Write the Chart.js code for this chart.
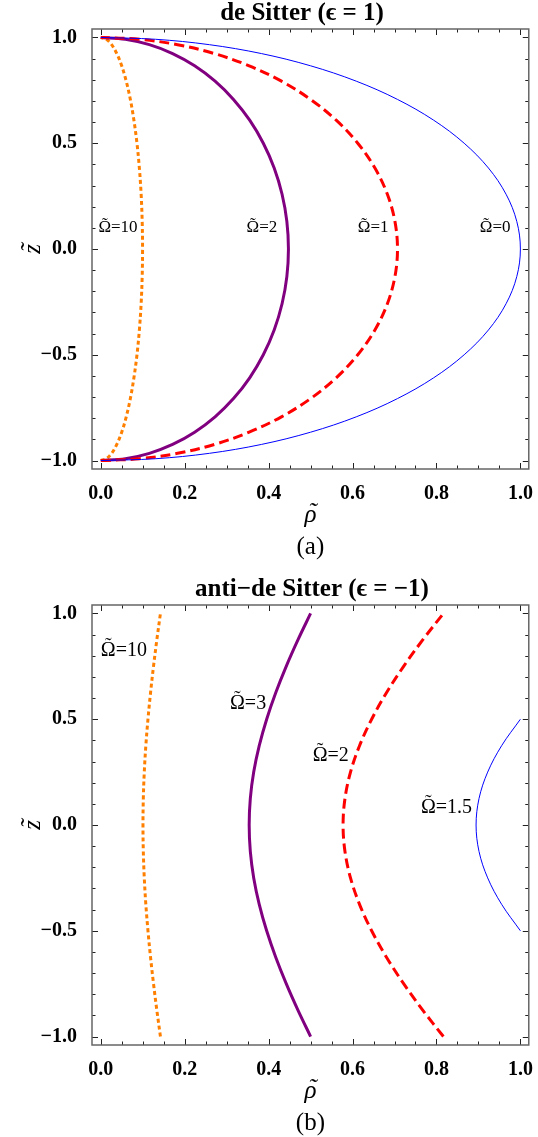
<!DOCTYPE html>
<html>
<head>
<meta charset="utf-8">
<script src="https://cdn.jsdelivr.net/npm/chart.js@4.4.0/dist/chart.umd.min.js"></script>
<style>
  html, body { margin: 0; padding: 0; background: #fff; }
  canvas { display: block; }
</style>
</head>
<body>
<canvas id="dsChart" width="538" height="576"></canvas>
<canvas id="adsChart" width="538" height="561"></canvas>
<script>
// --- de Sitter (eps = 1): z values and rho for each Omega ---
const dsZ = [-1, -0.9914, -0.9659, -0.9239, -0.866, -0.7934, -0.7071, -0.6088, -0.5, -0.3827, -0.2588, -0.1305, 0,
             0.1305, 0.2588, 0.3827, 0.5, 0.6088, 0.7071, 0.7934, 0.866, 0.9239, 0.9659, 0.9914, 1];
const dsRho0 = [0, 0.1305, 0.2588, 0.3827, 0.5, 0.6088, 0.7071, 0.7934, 0.866, 0.9239, 0.9659, 0.9914, 1,
                0.9914, 0.9659, 0.9239, 0.866, 0.7934, 0.7071, 0.6088, 0.5, 0.3827, 0.2588, 0.1305, 0];
const dsRho1 = [0, 0.0923, 0.183, 0.2706, 0.3536, 0.4305, 0.5, 0.561, 0.6124, 0.6533, 0.683, 0.701, 0.7071,
                0.701, 0.683, 0.6533, 0.6124, 0.561, 0.5, 0.4305, 0.3536, 0.2706, 0.183, 0.0923, 0];
const dsRho2 = [0, 0.0584, 0.1157, 0.1711, 0.2236, 0.2723, 0.3162, 0.3548, 0.3873, 0.4132, 0.432, 0.4434, 0.4472,
                0.4434, 0.432, 0.4132, 0.3873, 0.3548, 0.3162, 0.2723, 0.2236, 0.1711, 0.1157, 0.0584, 0];
const dsRho10 = [0, 0.013, 0.0258, 0.0381, 0.0498, 0.0606, 0.0704, 0.0789, 0.0862, 0.0919, 0.0961, 0.0986, 0.0995,
                 0.0986, 0.0961, 0.0919, 0.0862, 0.0789, 0.0704, 0.0606, 0.0498, 0.0381, 0.0258, 0.013, 0];

// --- anti-de Sitter (eps = -1) ---
const adsZ = [-1, -0.875, -0.75, -0.625, -0.5, -0.375, -0.25, -0.125, 0, 0.125, 0.25, 0.375, 0.5, 0.625, 0.75, 0.875, 1];
const adsRho10 = [0.1421, 0.1335, 0.1256, 0.1185, 0.1124, 0.1073, 0.1036, 0.1013, 0.1005,
                  0.1013, 0.1036, 0.1073, 0.1124, 0.1185, 0.1256, 0.1335, 0.1421];
const adsRho3 = [0.5, 0.4698, 0.4419, 0.4169, 0.3953, 0.3776, 0.3644, 0.3563, 0.3536,
                 0.3563, 0.3644, 0.3776, 0.3953, 0.4169, 0.4419, 0.4698, 0.5];
const adsRho2 = [0.8165, 0.7672, 0.7217, 0.6808, 0.6455, 0.6166, 0.5951, 0.5819, 0.5774,
                 0.5819, 0.5951, 0.6166, 0.6455, 0.6808, 0.7217, 0.7672, 0.8165];
const adsZ15 = [-0.5, -0.375, -0.25, -0.125, 0, 0.125, 0.25, 0.375, 0.5];
const adsRho15 = [1, 0.9553, 0.922, 0.9014, 0.8944, 0.9014, 0.922, 0.9553, 1];

// tick labels
const xTickVals = [0, 0.2, 0.4, 0.6, 0.8, 1];
const xTickLabels = ['0.0', '0.2', '0.4', '0.6', '0.8', '1.0'];
const yTickVals = [-1, -0.5, 0, 0.5, 1];
const yTickLabels = ['\u22121.0', '\u22120.5', '0.0', '0.5', '1.0'];

// curve labels: text after the Omega-tilde, rho, z
const dsNotes = [['=10', 0.041, 0.10], ['=2', 0.384, 0.10], ['=1', 0.649, 0.10], ['=0', 0.94, 0.10]];
const adsNotes = [['=10', 0.055, 0.826], ['=3', 0.351, 0.573], ['=2', 0.548, 0.328], ['=1.5', 0.824, 0.08]];

const SERIF = '"Liberation Serif", "Times New Roman", serif';

function pts(rho, z) {
    return z.map((v, i) => ({ x: rho[i], y: v }));
}

// line styles matching the original plot
const styles = {
    blue:   { borderColor: '#0000ff', borderWidth: 1 },
    red:    { borderColor: '#ff0000', borderWidth: 3, borderDash: [10, 5] },
    purple: { borderColor: '#800080', borderWidth: 3 },
    orange: { borderColor: '#ff8000', borderWidth: 3, borderDash: [4, 3] }
};

function makeSet(rho, z, style) {
    return Object.assign({
        data: pts(rho, z),
        showLine: true,
        pointRadius: 0,
        tension: 0.35,
        fill: false,
        borderCapStyle: 'butt'
    }, style);
}

// the font has poor combining tilde, so draw "~" over the base glyph by hand
function tildeText(ctx, base, rest, cx, cy, size, lift, shift) {
    const wb = ctx.measureText(base).width;
    const wr = ctx.measureText(rest).width;
    const left = cx - (wb + wr) / 2;
    ctx.textAlign = 'left';
    ctx.fillText(base, left, cy);
    if (rest) ctx.fillText(rest, left + wb, cy);
    ctx.textAlign = 'center';
    ctx.fillText('\u02DC', left + wb / 2 + shift * size, cy - lift * size);
}

// frame, inward ticks, titles, captions and curve labels
const decorPlugin = {
    id: 'decor',
    afterDatasetsDraw(chart, args, opts) {
        const { ctx, chartArea: a, scales: { x, y } } = chart;
        ctx.save();

        // ticks on all four sides
        ctx.strokeStyle = '#222';
        ctx.lineWidth = 1;
        ctx.beginPath();
        for (let i = 0; i <= 20; i++) {
            const px = Math.round(x.getPixelForValue(i * 0.05)) + 0.5;
            const len = (i % 4 === 0) ? 6 : 3.5;
            ctx.moveTo(px, a.bottom); ctx.lineTo(px, a.bottom - len);
            ctx.moveTo(px, a.top); ctx.lineTo(px, a.top + len);
        }
        for (let i = -10; i <= 10; i++) {
            const py = Math.round(y.getPixelForValue(i * 0.1)) + 0.5;
            const len = (i % 5 === 0) ? 6 : 3.5;
            ctx.moveTo(a.left, py); ctx.lineTo(a.left + len, py);
            ctx.moveTo(a.right, py); ctx.lineTo(a.right - len, py);
        }
        ctx.stroke();

        // frame
        ctx.strokeStyle = '#666';
        ctx.lineWidth = 1.5;
        ctx.strokeRect(a.left, a.top, a.right - a.left, a.bottom - a.top);

        // curve labels
        ctx.fillStyle = '#000';
        ctx.textBaseline = 'middle';
        ctx.font = opts.noteSize + 'px ' + SERIF;
        opts.notes.forEach(n => {
            tildeText(ctx, '\u03A9', n[0], x.getPixelForValue(n[1]), y.getPixelForValue(n[2]), opts.noteSize, 0.2, 0);
        });

        const cx = (a.left + a.right) / 2;
        // title
        ctx.textAlign = 'center';
        ctx.font = 'bold 25px ' + SERIF;
        ctx.fillText(opts.title, opts.titleX, 14);
        // x title
        ctx.font = 'italic 25px ' + SERIF;
        tildeText(ctx, '\u03C1', '', cx, a.bottom + 46, 25, 0.05, 0.08);
        // caption
        ctx.font = '25px ' + SERIF;
        ctx.textAlign = 'center';
        ctx.fillText(opts.caption, cx, a.bottom + 78);
        // y title (rotated)
        ctx.save();
        ctx.translate(33, y.getPixelForValue(0));
        ctx.rotate(-Math.PI / 2);
        ctx.font = 'italic 25px ' + SERIF;
        tildeText(ctx, 'z', '', 0, 0, 25, 0.05, 0.06);
        ctx.restore();

        ctx.restore();
    }
};

function drawChart(canvasId, datasets, decor, bottomPad) {
    const ctx = document.getElementById(canvasId).getContext('2d');
    return new Chart(ctx, {
        type: 'scatter',
        data: { datasets: datasets },
        plugins: [decorPlugin],
        options: {
            responsive: false,
            animation: false,
            layout: { padding: { top: 29, right: 6, bottom: bottomPad, left: 0 } },
            plugins: {
                legend: { display: false },
                tooltip: { enabled: false },
                decor: decor
            },
            scales: {
                x: {
                    type: 'linear',
                    min: -0.021,
                    max: 1.02,
                    grid: { display: false },
                    border: { display: false },
                    afterBuildTicks: (s) => { s.ticks = xTickVals.map(v => ({ value: v })); },
                    afterFit: (s) => { s.height = 40; },
                    ticks: {
                        padding: 5,
                        color: '#000',
                        font: { family: SERIF, size: 20, weight: 'bold' },
                        maxRotation: 0,
                        callback: (v, i) => xTickLabels[i]
                    }
                },
                y: {
                    type: 'linear',
                    min: -1.04,
                    max: 1.04,
                    grid: { display: false },
                    border: { display: false },
                    afterBuildTicks: (s) => { s.ticks = yTickVals.map(v => ({ value: v })); },
                    afterFit: (s) => { s.width = 92; },
                    ticks: {
                        padding: 7,
                        color: '#000',
                        font: { family: SERIF, size: 20, weight: 'bold' },
                        callback: (v, i) => yTickLabels[i]
                    }
                }
            }
        }
    });
}

drawChart('dsChart', [
    makeSet(dsRho0, dsZ, styles.blue),
    makeSet(dsRho1, dsZ, styles.red),
    makeSet(dsRho2, dsZ, styles.purple),
    makeSet(dsRho10, dsZ, styles.orange)
], { title: 'de Sitter (\u03F5 = 1)', titleX: 302, caption: '(a)', notes: dsNotes, noteSize: 17 }, 576 - 469 - 40);

drawChart('adsChart', [
    makeSet(adsRho15, adsZ15, styles.blue),
    makeSet(adsRho2, adsZ, styles.red),
    makeSet(adsRho3, adsZ, styles.purple),
    makeSet(adsRho10, adsZ, styles.orange)
], { title: 'anti\u2212de Sitter (\u03F5 = \u22121)', titleX: 312, caption: '(b)', notes: adsNotes, noteSize: 20 }, 561 - 469 - 40);
</script>
</body>
</html>
